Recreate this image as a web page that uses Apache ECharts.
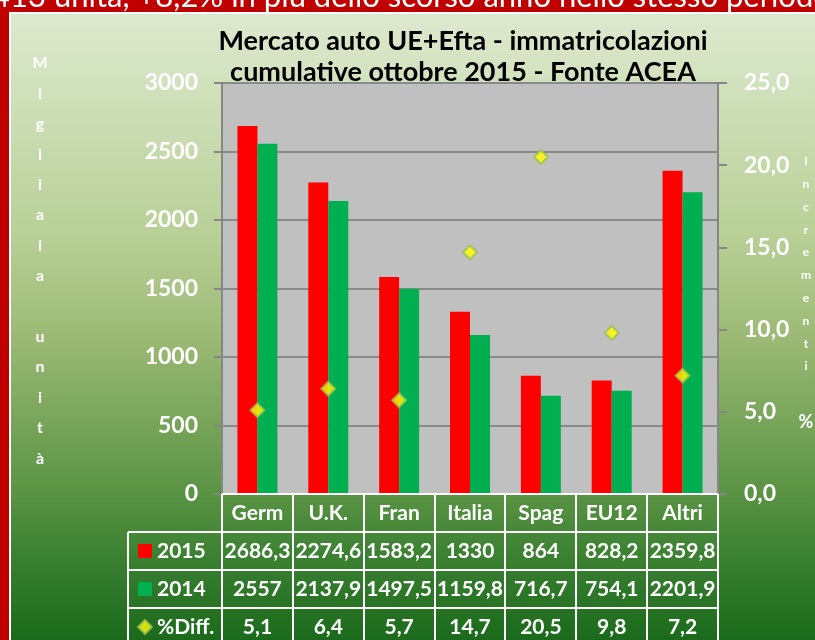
<!DOCTYPE html>
<html>
<head>
<meta charset="utf-8">
<script src="https://cdn.jsdelivr.net/npm/echarts@6/dist/echarts.min.js"></script>
<style>
	html, body { margin: 0; padding: 0; background: #c00000; }
	#chart { width: 815px; height: 640px; }
</style>
</head>
<body>
<div id="chart"></div>
<script>
// categorie (paesi)
var categories = ['Germ', 'U.K.', 'Fran', 'Italia', 'Spag', 'EU12', 'Altri'];
// immatricolazioni (migliaia)
var values2015 = [2686.3, 2274.6, 1583.2, 1330, 864, 828.2, 2359.8];
var values2014 = [2557, 2137.9, 1497.5, 1159.8, 716.7, 754.1, 2201.9];
// incremento percentuale
var diffValues = [5.1, 6.4, 5.7, 14.7, 20.5, 9.8, 7.2];
var seriesNames = ['2015', '2014', '%Diff.'];

// geometria del grafico
var gridL = 222, gridR = 718, gridT = 83, gridB = 494;
var rowH = 38, tableL = 128;
var W = 815, H = 640;

function comma(v) {
	return String(v).replace('.', ',');
}

var myChart = echarts.init(document.getElementById('chart'), null, { renderer: 'canvas' });

// linee bianche della tabella dati
var tableLines = [];
var band = (gridR - gridL) / categories.length;
for (var k = 0; k <= categories.length; k++) {
	var x = Math.round(gridL + k * band);
	tableLines.push({ type: 'line', z: 50, shape: { x1: x, y1: gridB, x2: x, y2: H }, style: { stroke: '#ffffff', lineWidth: 2 } });
}
tableLines.push({ type: 'line', z: 50, shape: { x1: tableL, y1: gridB + rowH, x2: tableL, y2: H }, style: { stroke: '#ffffff', lineWidth: 2 } });
tableLines.push({ type: 'line', z: 50, shape: { x1: gridL, y1: gridB, x2: gridR, y2: gridB }, style: { stroke: '#ffffff', lineWidth: 2 } });
for (var r = 1; r <= 3; r++) {
	var y = gridB + r * rowH;
	tableLines.push({ type: 'line', z: 50, shape: { x1: tableL, y1: y, x2: gridR, y2: y }, style: { stroke: '#ffffff', lineWidth: 2 } });
}

var labelFont = 'Lato, "Open Sans", sans-serif';

var option = {
	backgroundColor: '#c00000',
	animation: false,
	textStyle: { fontFamily: labelFont },
	graphic: [
		// cornice bianca e pannello sfumato
		{ type: 'rect', z: -20, shape: { x: 9, y: 12, width: W - 9, height: H - 12 }, style: { fill: '#ffffff' } },
		{
			type: 'rect', z: -19, shape: { x: 11, y: 14, width: W - 11, height: H - 14 },
			style: {
				fill: new echarts.graphic.LinearGradient(0, 0, 0, 1, [
					{ offset: 0, color: '#dde9ce' },
					{ offset: 0.35, color: '#b9d098' },
					{ offset: 0.52, color: '#9bb974' },
					{ offset: 0.76, color: '#5b9444' },
					{ offset: 0.87, color: '#3a8031' },
					{ offset: 1, color: '#1b6a1b' }
				])
			}
		},
		// testo tagliato in alto
		{
			type: 'text', z: -18, x: -8, y: -3,
			style: { text: '413 unità, +8,2% in più dello scorso anno nello stesso periodo', fill: '#ffffff', font: '31px ' + labelFont, verticalAlign: 'middle' }
		},
		{ type: 'rect', z: -17, shape: { x: 0, y: 12, width: 9, height: H }, style: { fill: '#c00000' } },
		// titolo
		{
			type: 'text', z: 20, x: 463, y: 57,
			style: {
				text: 'Mercato auto UE+Efta - immatricolazioni\ncumulative ottobre 2015 - Fonte ACEA',
				fill: '#000000', font: 'bold 27px ' + labelFont, align: 'center', verticalAlign: 'middle', lineHeight: 31
			}
		},
		// nomi degli assi
		{
			type: 'text', z: 20, x: 40, y: 48,
			style: { text: 'M\ni\ng\nl\ni\na\ni\na\n\nu\nn\ni\nt\nà', fill: '#ffffff', font: 'bold 16px ' + labelFont, align: 'center', verticalAlign: 'top', lineHeight: 30.4 }
		},
		{
			type: 'text', z: 20, x: 806, y: 150,
			style: { text: 'I\nn\nc\nr\ne\nm\ne\nn\nt\ni', fill: '#ffffff', font: 'bold 12px ' + labelFont, align: 'center', verticalAlign: 'top', lineHeight: 22.8 }
		},
		{
			type: 'text', z: 20, x: 806, y: 422,
			style: { text: '%', fill: '#ffffff', font: 'bold 18px ' + labelFont, align: 'center', verticalAlign: 'middle' }
		}
	].concat(tableLines),
	legend: {
		orient: 'vertical',
		left: 137,
		top: 539,
		padding: 0,
		itemWidth: 14,
		itemHeight: 14,
		itemGap: 14,
		selectedMode: false,
		textStyle: { color: '#ffffff', fontWeight: 'bold', fontSize: 21, lineHeight: 24, fontFamily: labelFont },
		data: [
			{ name: seriesNames[0], icon: 'rect' },
			{ name: seriesNames[1], icon: 'rect' },
			{ name: seriesNames[2], icon: 'diamond' }
		]
	},
	grid: {
		left: gridL,
		right: W - gridR,
		top: gridT,
		bottom: H - gridB,
		outerBoundsMode: 'none',
		containLabel: false,
		show: true,
		backgroundColor: '#c0c0c0',
		borderWidth: 0
	},
	xAxis: {
		type: 'category',
		data: categories,
		axisLine: { show: false },
		axisTick: { show: false },
		axisLabel: {
			interval: 0,
			margin: 0,
			color: '#ffffff',
			fontWeight: 'bold',
			fontSize: 21,
			lineHeight: rowH,
			formatter: function (value, idx) {
				return value + '\n' + comma(values2015[idx]) + '\n' + comma(values2014[idx]) + '\n' + comma(diffValues[idx]);
			}
		}
	},
	yAxis: [{
		type: 'value',
		min: 0,
		max: 3000,
		interval: 500,
		axisLine: { show: true, lineStyle: { color: '#868686', width: 2 } },
		axisTick: { show: true, length: 8, lineStyle: { color: '#868686', width: 2 } },
		axisLabel: {
			margin: 24, color: '#ffffff', fontWeight: 'bold', fontSize: 23,
			formatter: function (v) { return String(v); }
		},
		splitLine: { lineStyle: { color: '#8a8a8a', width: 2 } }
	}, {
		type: 'value',
		min: 0,
		max: 25,
		interval: 5,
		position: 'right',
		axisLine: { show: true, lineStyle: { color: '#868686', width: 2 } },
		axisTick: { show: true, length: 9, lineStyle: { color: '#868686', width: 2 } },
		axisLabel: {
			margin: 26, color: '#ffffff', fontWeight: 'bold', fontSize: 23,
			formatter: function (v) { return v.toFixed(1).replace('.', ','); }
		},
		splitLine: { show: false }
	}],
	series: [{
		name: seriesNames[0],
		type: 'bar',
		barWidth: 20,
		barGap: '0%',
		itemStyle: { color: '#ff0000' },
		data: values2015
	}, {
		name: seriesNames[1],
		type: 'bar',
		barWidth: 20,
		barGap: '0%',
		itemStyle: { color: '#00b050' },
		data: values2014
	}, {
		name: seriesNames[2],
		type: 'scatter',
		yAxisIndex: 1,
		symbol: 'diamond',
		symbolSize: 14,
		z: 5,
		itemStyle: { color: '#ffff00', borderColor: '#9bbb59', borderWidth: 2 },
		data: diffValues
	}]
};
myChart.setOption(option);
window.addEventListener('resize', function () {
	myChart.resize();
});
</script>
</body>
</html>
